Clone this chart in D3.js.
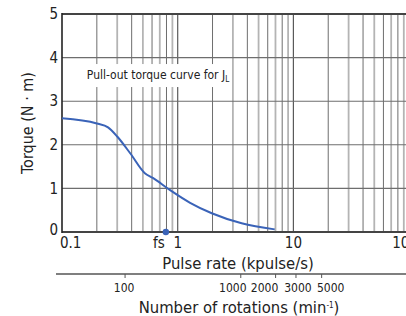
<!DOCTYPE html>
<html>
<head>
<meta charset="utf-8">
<script src="https://cdn.jsdelivr.net/npm/d3@7"></script>
<style>
  body { margin: 0; background: #fff; }
  svg text { font-family: "Liberation Sans Narrow", "DejaVu Sans Condensed", "Roboto Condensed", sans-serif; fill: #222; }
</style>
</head>
<body>
<div id="chart"></div>
<script>
// pull-out torque curve (pulse rate in kpulse/s, torque in N·m)
const pulseRate = [0.1, 0.2, 0.25, 0.3, 0.39, 0.52, 0.61, 0.86, 1.28, 1.97, 3.57, 6.9];
const torque    = [2.61, 2.49, 2.40, 2.19, 1.80, 1.35, 1.24, 0.96, 0.67, 0.43, 0.20, 0.06];

const fsRate = 0.79;                       // start frequency
const pulseTicks = [0.1, 1, 10, 100];
const pulseTickLabels = ["0.1", "1", "10", "100"];
const torqueTicks = [0, 1, 2, 3, 4, 5];
const rpmTicks = [100, 1000, 2000, 3000, 5000];
const rpmPerKpps = 285;                    // rotations (min-1) per kpulse/s

const W = 406, H = 316;
const margin = { top: 14, left: 62, bottom: 84 };
const plotH = H - margin.top - margin.bottom;

const svg = d3.select("#chart").append("svg")
  .attr("width", W).attr("height", H);

const x = d3.scaleLog().domain([0.1, 100]).range([margin.left, margin.left + 3 * 115.7]);
const y = d3.scaleLinear().domain([0, 5]).range([margin.top + plotH, margin.top]);

// vertical grid: decades + minor lines (even dark, odd light)
const minor = [];
[0.1, 1, 10].forEach(dec => {
  for (let k = 2; k <= 9; k++) minor.push({ v: dec * k, odd: k % 2 === 1 });
});
svg.append("g").selectAll("line")
  .data(minor.filter(d => x(d.v) < W + 2))
  .join("line")
    .attr("x1", d => x(d.v)).attr("x2", d => x(d.v))
    .attr("y1", y(5)).attr("y2", y(0))
    .attr("stroke", d => d.odd ? "#b4b4b4" : "#6e6e6e")
    .attr("stroke-width", d => d.odd ? 1.8 : 1);

svg.append("g").selectAll("line")
  .data([1, 10])
  .join("line")
    .attr("x1", d => x(d)).attr("x2", d => x(d))
    .attr("y1", y(5)).attr("y2", y(0))
    .attr("stroke", "#5a5a5a").attr("stroke-width", 1.2);

// horizontal grid
svg.append("g").selectAll("line")
  .data([1, 2, 3, 4])
  .join("line")
    .attr("x1", x(0.1)).attr("x2", W)
    .attr("y1", d => y(d)).attr("y2", d => y(d))
    .attr("stroke", "#6e6e6e").attr("stroke-width", 1.1);

// frame
svg.append("line").attr("x1", x(0.1)).attr("x2", W).attr("y1", y(5)).attr("y2", y(5))
  .attr("stroke", "#444").attr("stroke-width", 2);
svg.append("line").attr("x1", x(0.1)).attr("x2", W).attr("y1", y(0)).attr("y2", y(0))
  .attr("stroke", "#444").attr("stroke-width", 2);
svg.append("line").attr("x1", x(0.1)).attr("x2", x(0.1)).attr("y1", y(5) - 1).attr("y2", y(0) + 1)
  .attr("stroke", "#222").attr("stroke-width", 1.6);

// annotation with white box
const note = svg.append("g").attr("transform", `translate(158,${y(3.6)})`);
note.append("rect").attr("x", -72).attr("y", -11).attr("width", 144).attr("height", 23).attr("fill", "#fff");
const noteText = note.append("text").attr("text-anchor", "middle").attr("dy", "0.35em")
  .style("font-size", "12px");
noteText.append("tspan").text("Pull-out torque curve for J");
noteText.append("tspan").text("L").attr("dy", 3).style("font-size", "8px");

// curve
const pts = pulseRate.map((p, i) => ({ p, t: torque[i] }));
svg.append("path")
  .datum(pts)
  .attr("fill", "none")
  .attr("stroke", "#3a63b8")
  .attr("stroke-width", 2)
  .attr("d", d3.line().x(d => x(d.p)).y(d => y(d.t)).curve(d3.curveMonotoneX));

// fs marker
svg.append("circle").attr("cx", x(fsRate)).attr("cy", y(0)).attr("r", 3.2).attr("fill", "#3a63b8");
svg.append("text").attr("x", x(fsRate) - 7).attr("y", y(0) + 16)
  .attr("text-anchor", "middle").style("font-size", "15px").text("fs");

// y tick labels
svg.append("g").selectAll("text")
  .data(torqueTicks)
  .join("text")
    .attr("x", x(0.1) - 4).attr("y", d => y(d)).attr("dy", d => d === 0 ? "0.2em" : "0.35em")
    .attr("text-anchor", "end").style("font-size", "15px")
    .text(d => d);

svg.append("text")
  .attr("transform", `translate(27,${y(2.5)}) rotate(-90)`)
  .attr("text-anchor", "middle").attr("dy", "0.35em").style("font-size", "16px")
  .text("Torque (N · m)");

// x tick labels (pulse rate)
svg.append("g").selectAll("text")
  .data(pulseTicks)
  .join("text")
    .attr("x", (d, i) => i === 0 ? x(d) - 2 : (d === 100 ? x(d) - 4 : x(d)))
    .attr("y", y(0) + 16)
    .attr("text-anchor", (d, i) => i === 0 ? "start" : "middle")
    .style("font-size", "15px")
    .text((d, i) => pulseTickLabels[i]);

svg.append("text").attr("x", 238).attr("y", 269).attr("text-anchor", "middle")
  .style("font-size", "16.5px").text("Pulse rate (kpulse/s)");

// second axis: number of rotations
const xr = d3.scaleLog()
  .domain(x.domain().map(v => v * rpmPerKpps))
  .range(x.range());
const axisY = 274;
svg.append("line").attr("x1", 56).attr("x2", W).attr("y1", axisY).attr("y2", axisY)
  .attr("stroke", "#555").attr("stroke-width", 1.5);
svg.append("g").selectAll("line")
  .data(rpmTicks)
  .join("line")
    .attr("x1", d => xr(d)).attr("x2", d => xr(d))
    .attr("y1", axisY).attr("y2", axisY + 4)
    .attr("stroke", "#555");

const rpmLabelShift = { 100: -1, 1000: -8, 2000: -11, 3000: 2, 5000: 9 };
svg.append("g").selectAll("text")
  .data(rpmTicks)
  .join("text")
    .attr("x", d => xr(d) + rpmLabelShift[d])
    .attr("y", axisY + 18)
    .attr("text-anchor", "middle").style("font-size", "12px")
    .text(d => d);

const rotLabel = svg.append("text").attr("x", 239).attr("y", 313).attr("text-anchor", "middle")
  .style("font-size", "16.5px");
rotLabel.append("tspan").text("Number of rotations (min");
rotLabel.append("tspan").text("-1").attr("dy", -5).style("font-size", "8px");
rotLabel.append("tspan").text(")").attr("dy", 5);
</script>
</body>
</html>
